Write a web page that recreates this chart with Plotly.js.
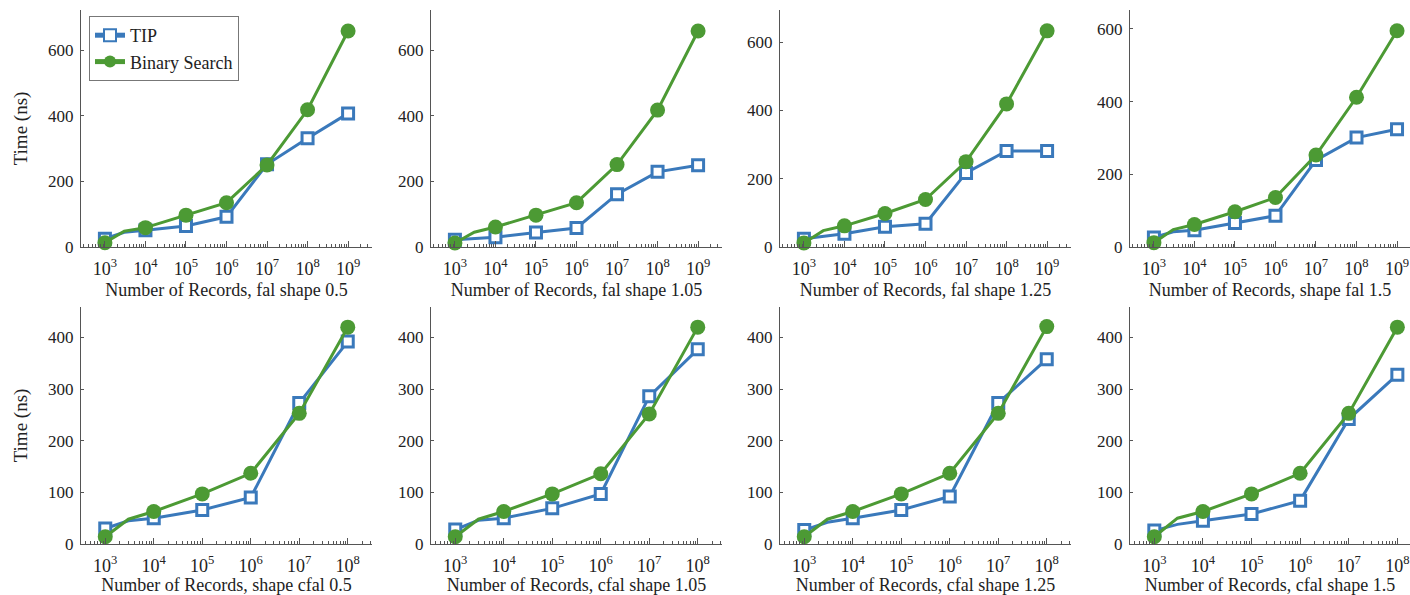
<!DOCTYPE html>
<html>
<head>
<meta charset="utf-8">
<script src="https://cdn.plot.ly/plotly-3.0.1.min.js"></script>
<style>html,body{margin:0;padding:0;background:#fff;}#chart{width:1410px;height:595px;}</style>
</head>
<body>
<div id="chart"></div>
<script>
// ---- data ----
const recordsTop = [1e3, 3e3, 1e4, 1e5, 1e6, 1e7, 1e8, 1e9];
const recordsBottom = [1e3, 3e3, 1e4, 1e5, 1e6, 1e7, 1e8];
const seriesNames = ["TIP", "Binary Search"];
const tickValsTop = [1e3, 1e4, 1e5, 1e6, 1e7, 1e8, 1e9];
const tickTextTop = ["10<sup>3</sup>", "10<sup>4</sup>", "10<sup>5</sup>", "10<sup>6</sup>", "10<sup>7</sup>", "10<sup>8</sup>", "10<sup>9</sup>"];
const tickValsBottom = [1e3, 1e4, 1e5, 1e6, 1e7, 1e8];
const tickTextBottom = ["10<sup>3</sup>", "10<sup>4</sup>", "10<sup>5</sup>", "10<sup>6</sup>", "10<sup>7</sup>", "10<sup>8</sup>"];

const titlesTop = [
  "Number of Records, fal shape 0.5",
  "Number of Records, fal shape 1.05",
  "Number of Records, fal shape 1.25",
  "Number of Records, shape fal 1.5"
];
const titlesBottom = [
  "Number of Records, shape cfal 0.5",
  "Number of Records, cfal shape 1.05",
  "Number of Records, cfal shape 1.25",
  "Number of Records, cfal shape 1.5"
];

const tipFal05   = [25, 45, 51, 64, 92, 252, 331, 407];
const bsFal05    = [13, 48, 59, 97, 135, 250, 418, 658];
const tipFal105  = [22, 25, 30, 44, 58, 161, 229, 249];
const bsFal105   = [12, 45, 61, 97, 135, 251, 417, 658];
const tipFal125  = [24, 32, 39, 59, 68, 217, 281, 281];
const bsFal125   = [12, 48, 62, 98, 139, 250, 419, 633];
const tipFal15   = [26, 42, 46, 66, 86, 239, 301, 324];
const bsFal15    = [12, 48, 62, 97, 136, 253, 412, 595];

const tipCfal05  = [30, 45, 50, 66, 90, 273, 392];
const bsCfal05   = [14, 48, 63, 97, 137, 253, 420];
const tipCfal105 = [28, 46, 50, 69, 97, 286, 377];
const bsCfal105  = [14, 48, 63, 97, 136, 252, 420];
const tipCfal125 = [27, 42, 50, 66, 92, 273, 358];
const bsCfal125  = [14, 48, 63, 97, 137, 253, 421];
const tipCfal15  = [26, 38, 45, 58, 84, 242, 328];
const bsCfal15   = [14, 50, 63, 97, 137, 253, 420];

const yTitle = "Time (ns)";

// ---- styling ----
const BLUE = "#3a79bb";
const GREEN = "#4c9a34";
const AX = "#555555";
const TXT = "#222222";
const FONT = "Liberation Serif, DejaVu Serif, serif";

const panels = [
  {x: recordsTop, tip: tipFal05,  bs: bsFal05,  title: titlesTop[0], tv: tickValsTop, tt: tickTextTop},
  {x: recordsTop, tip: tipFal105, bs: bsFal105, title: titlesTop[1], tv: tickValsTop, tt: tickTextTop},
  {x: recordsTop, tip: tipFal125, bs: bsFal125, title: titlesTop[2], tv: tickValsTop, tt: tickTextTop},
  {x: recordsTop, tip: tipFal15,  bs: bsFal15,  title: titlesTop[3], tv: tickValsTop, tt: tickTextTop},
  {x: recordsBottom, tip: tipCfal05,  bs: bsCfal05,  title: titlesBottom[0], tv: tickValsBottom, tt: tickTextBottom},
  {x: recordsBottom, tip: tipCfal105, bs: bsCfal105, title: titlesBottom[1], tv: tickValsBottom, tt: tickTextBottom},
  {x: recordsBottom, tip: tipCfal125, bs: bsCfal125, title: titlesBottom[2], tv: tickValsBottom, tt: tickTextBottom},
  {x: recordsBottom, tip: tipCfal15,  bs: bsCfal15,  title: titlesBottom[3], tv: tickValsBottom, tt: tickTextBottom}
];

const W = 1410, H = 595;
const colPx = [[81, 372], [431, 722], [780, 1071], [1130, 1410]];
const rowPx = [[10, 247], [307, 544]];
const yMax = [722, 722, 694, 652, 459, 459, 459, 459];
const yDtick = [200, 200, 200, 200, 100, 100, 100, 100];
const xRanges = [[2.41, 9.59], [2.41, 9.59], [2.41, 9.59], [2.41, 9.32],
                 [2.5, 8.5], [2.5, 8.5], [2.5, 8.5], [2.5, 8.26]];

// minor tick positions (2..9 x 10^n)
const minorVals = [];
for (let e = 2; e <= 9; e++) for (let k = 2; k <= 9; k++) minorVals.push(k * Math.pow(10, e));

const isDecade = v => Math.abs(Math.log10(v) - Math.round(Math.log10(v))) < 1e-9;

const traces = [];
const layout = {
  width: W, height: H,
  margin: {l: 0, r: 0, t: 0, b: 0},
  paper_bgcolor: "#fff", plot_bgcolor: "#fff",
  font: {family: FONT, size: 16, color: TXT},
  showlegend: true,
  legend: {
    x: 89 / W, y: 1 - 16 / H, xanchor: "left", yanchor: "top",
    bgcolor: "#fff", bordercolor: "#777", borderwidth: 1,
    font: {family: FONT, size: 18, color: TXT},
    tracegroupgap: 0, itemsizing: "constant", entrywidth: 140
  }
};

panels.forEach((p, i) => {
  const n = i + 1;
  const xa = n === 1 ? "x" : "x" + n;
  const ya = n === 1 ? "y" : "y" + n;
  const col = i % 4, row = Math.floor(i / 4);
  const sizesSq = p.x.map(v => (isDecade(v) ? 11 : 0));
  const lwSq = p.x.map(v => (isDecade(v) ? 3 : 0));
  const sizesC = p.x.map(v => (isDecade(v) ? 15 : 0));
  traces.push({
    type: "scatter", mode: "lines+markers", x: p.x, y: p.tip, xaxis: xa, yaxis: ya,
    name: seriesNames[0], legendgroup: "tip", showlegend: i === 0, cliponaxis: false,
    line: {color: BLUE, width: 3},
    marker: {symbol: "square", size: sizesSq, color: "#fff", opacity: 1, line: {color: BLUE, width: lwSq}}
  });
  traces.push({
    type: "scatter", mode: "lines+markers", x: p.x, y: p.bs, xaxis: xa, yaxis: ya,
    name: seriesNames[1], legendgroup: "bs", showlegend: i === 0, cliponaxis: false,
    line: {color: GREEN, width: 3},
    marker: {symbol: "circle", size: sizesC, color: GREEN, opacity: 1, line: {width: 0}}
  });
  const xKey = n === 1 ? "xaxis" : "xaxis" + n;
  const yKey = n === 1 ? "yaxis" : "yaxis" + n;
  layout[xKey] = {
    type: "log", anchor: ya,
    domain: [colPx[col][0] / W, colPx[col][1] / W],
    range: xRanges[i],
    tickmode: "array", tickvals: p.tv, ticktext: p.tt, tickangle: 0,
    showline: true, linecolor: AX, linewidth: 1,
    showgrid: false, zeroline: false,
    ticks: "inside", ticklen: 6, tickcolor: AX, tickwidth: 1,
    ticklabelstandoff: 5,
    tickfont: {family: FONT, size: 18, color: TXT},
    minor: {tickmode: "array", tickvals: minorVals, ticks: "inside", ticklen: 3, tickcolor: AX, tickwidth: 1, showgrid: false},
    title: {text: p.title, font: {family: FONT, size: 18, color: TXT}, standoff: 5}
  };
  layout[yKey] = {
    anchor: xa,
    domain: [1 - rowPx[row][1] / H, 1 - rowPx[row][0] / H],
    range: [0, yMax[i]],
    dtick: yDtick[i], tick0: 0,
    showline: true, linecolor: AX, linewidth: 1,
    showgrid: false, zeroline: false,
    ticks: "inside", ticklen: 3, tickcolor: AX, tickwidth: 1,
    ticklabelstandoff: 3,
    tickfont: {family: FONT, size: 17, color: TXT},
    title: col === 0 ? {text: yTitle, font: {family: FONT, size: 19, color: TXT}, standoff: 15} : {text: ""}
  };
});

Plotly.newPlot("chart", traces, layout, {staticPlot: true, displayModeBar: false});
</script>
</body>
</html>
